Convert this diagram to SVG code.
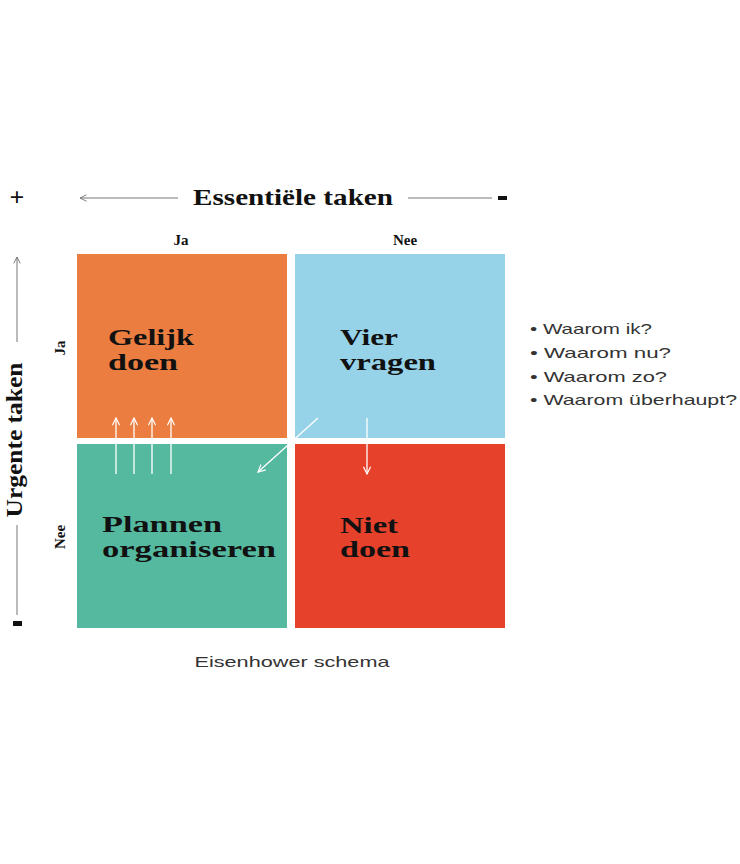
<svg xmlns="http://www.w3.org/2000/svg" width="740" height="864" viewBox="0 0 740 864">
<defs>
<style>
.serif{font-family:"Liberation Serif","DejaVu Serif",serif;font-weight:bold;fill:#111;}
.q{font-size:24px;}
.ax{font-size:24px;}
.lab{font-size:15px;}
.sans{font-family:"Liberation Sans","DejaVu Sans",sans-serif;font-size:15px;fill:#333;}
.axl{stroke:#777;stroke-width:1;fill:none;}
.wl{stroke:#fff;stroke-width:1.3;fill:none;}
</style>
<marker id="ah" viewBox="0 0 10 10" refX="9" refY="5" markerWidth="8" markerHeight="8" orient="auto" markerUnits="userSpaceOnUse">
<path d="M1,1 L9,5 L1,9" fill="none" stroke="#777" stroke-width="1.2"/>
</marker>
<marker id="wh" viewBox="0 0 10 10" refX="9" refY="5" markerWidth="9" markerHeight="9" orient="auto" markerUnits="userSpaceOnUse">
<path d="M1,1 L9,5 L1,9" fill="none" stroke="#fff" stroke-width="1.3"/>
</marker>
</defs>
<rect width="740" height="864" fill="#fff"/>

<g id="axis-top">
<text x="17" y="206" class="serif" font-size="26" text-anchor="middle">+</text>
<line x1="178" y1="198" x2="80" y2="198" class="axl" marker-end="url(#ah)"/>
<text x="193" y="205" class="serif ax" textLength="200" lengthAdjust="spacingAndGlyphs">Essentiële taken</text>
<line x1="408" y1="198" x2="492" y2="198" class="axl"/>
<rect x="498" y="196" width="9" height="4" fill="#111"/>
<text x="181" y="245" class="serif lab" text-anchor="middle">Ja</text>
<text x="405" y="245" class="serif lab" text-anchor="middle">Nee</text>
</g>

<g id="axis-left">
<line x1="17" y1="342" x2="17" y2="257" class="axl" marker-end="url(#ah)"/>
<text transform="translate(22,440) rotate(-90)" class="serif ax" text-anchor="middle" textLength="155" lengthAdjust="spacingAndGlyphs">Urgente taken</text>
<line x1="17" y1="525" x2="17" y2="615" class="axl"/>
<rect x="13" y="621" width="9" height="5" fill="#111"/>
<text transform="translate(65,348) rotate(-90)" class="serif lab" text-anchor="middle">Ja</text>
<text transform="translate(65,537) rotate(-90)" class="serif lab" text-anchor="middle">Nee</text>
</g>

<g id="q-gelijk-doen">
<rect x="77" y="254" width="210" height="184" fill="#EC7D40"/>
<text x="108" y="345" class="serif q" textLength="86" lengthAdjust="spacingAndGlyphs">Gelijk</text>
<text x="108" y="370" class="serif q" textLength="70" lengthAdjust="spacingAndGlyphs">doen</text>
</g>
<g id="q-vier-vragen">
<rect x="295" y="254" width="210" height="184" fill="#97D3E8"/>
<text x="340" y="345" class="serif q" textLength="58" lengthAdjust="spacingAndGlyphs">Vier</text>
<text x="340" y="370" class="serif q" textLength="96" lengthAdjust="spacingAndGlyphs">vragen</text>
</g>
<g id="q-plannen">
<rect x="77" y="444" width="210" height="184" fill="#55B9A0"/>
<text x="102" y="532" class="serif q" textLength="120" lengthAdjust="spacingAndGlyphs">Plannen</text>
<text x="102" y="557" class="serif q" textLength="174" lengthAdjust="spacingAndGlyphs">organiseren</text>
</g>
<g id="q-niet-doen">
<rect x="295" y="444" width="210" height="184" fill="#E5412B"/>
<text x="340" y="533" class="serif q" textLength="58" lengthAdjust="spacingAndGlyphs">Niet</text>
<text x="340" y="557" class="serif q" textLength="70" lengthAdjust="spacingAndGlyphs">doen</text>
</g>

<g id="connectors">
<line x1="116" y1="474" x2="116" y2="418" class="wl" marker-end="url(#wh)"/>
<line x1="134" y1="474" x2="134" y2="418" class="wl" marker-end="url(#wh)"/>
<line x1="152" y1="474" x2="152" y2="418" class="wl" marker-end="url(#wh)"/>
<line x1="171" y1="474" x2="171" y2="418" class="wl" marker-end="url(#wh)"/>
<line x1="318" y1="418" x2="258" y2="472" class="wl" marker-end="url(#wh)"/>
<line x1="367" y1="418" x2="367" y2="474" class="wl" marker-end="url(#wh)"/>
</g>

<g id="questions">
<text x="530" y="334" class="sans" textLength="122" lengthAdjust="spacingAndGlyphs">• Waarom ik?</text>
<text x="530" y="358" class="sans" textLength="141" lengthAdjust="spacingAndGlyphs">• Waarom nu?</text>
<text x="530" y="382" class="sans" textLength="137" lengthAdjust="spacingAndGlyphs">• Waarom zo?</text>
<text x="530" y="405" class="sans" textLength="207" lengthAdjust="spacingAndGlyphs">• Waarom überhaupt?</text>
</g>

<text x="292" y="667" class="sans" text-anchor="middle" textLength="195" lengthAdjust="spacingAndGlyphs">Eisenhower schema</text>
</svg>
